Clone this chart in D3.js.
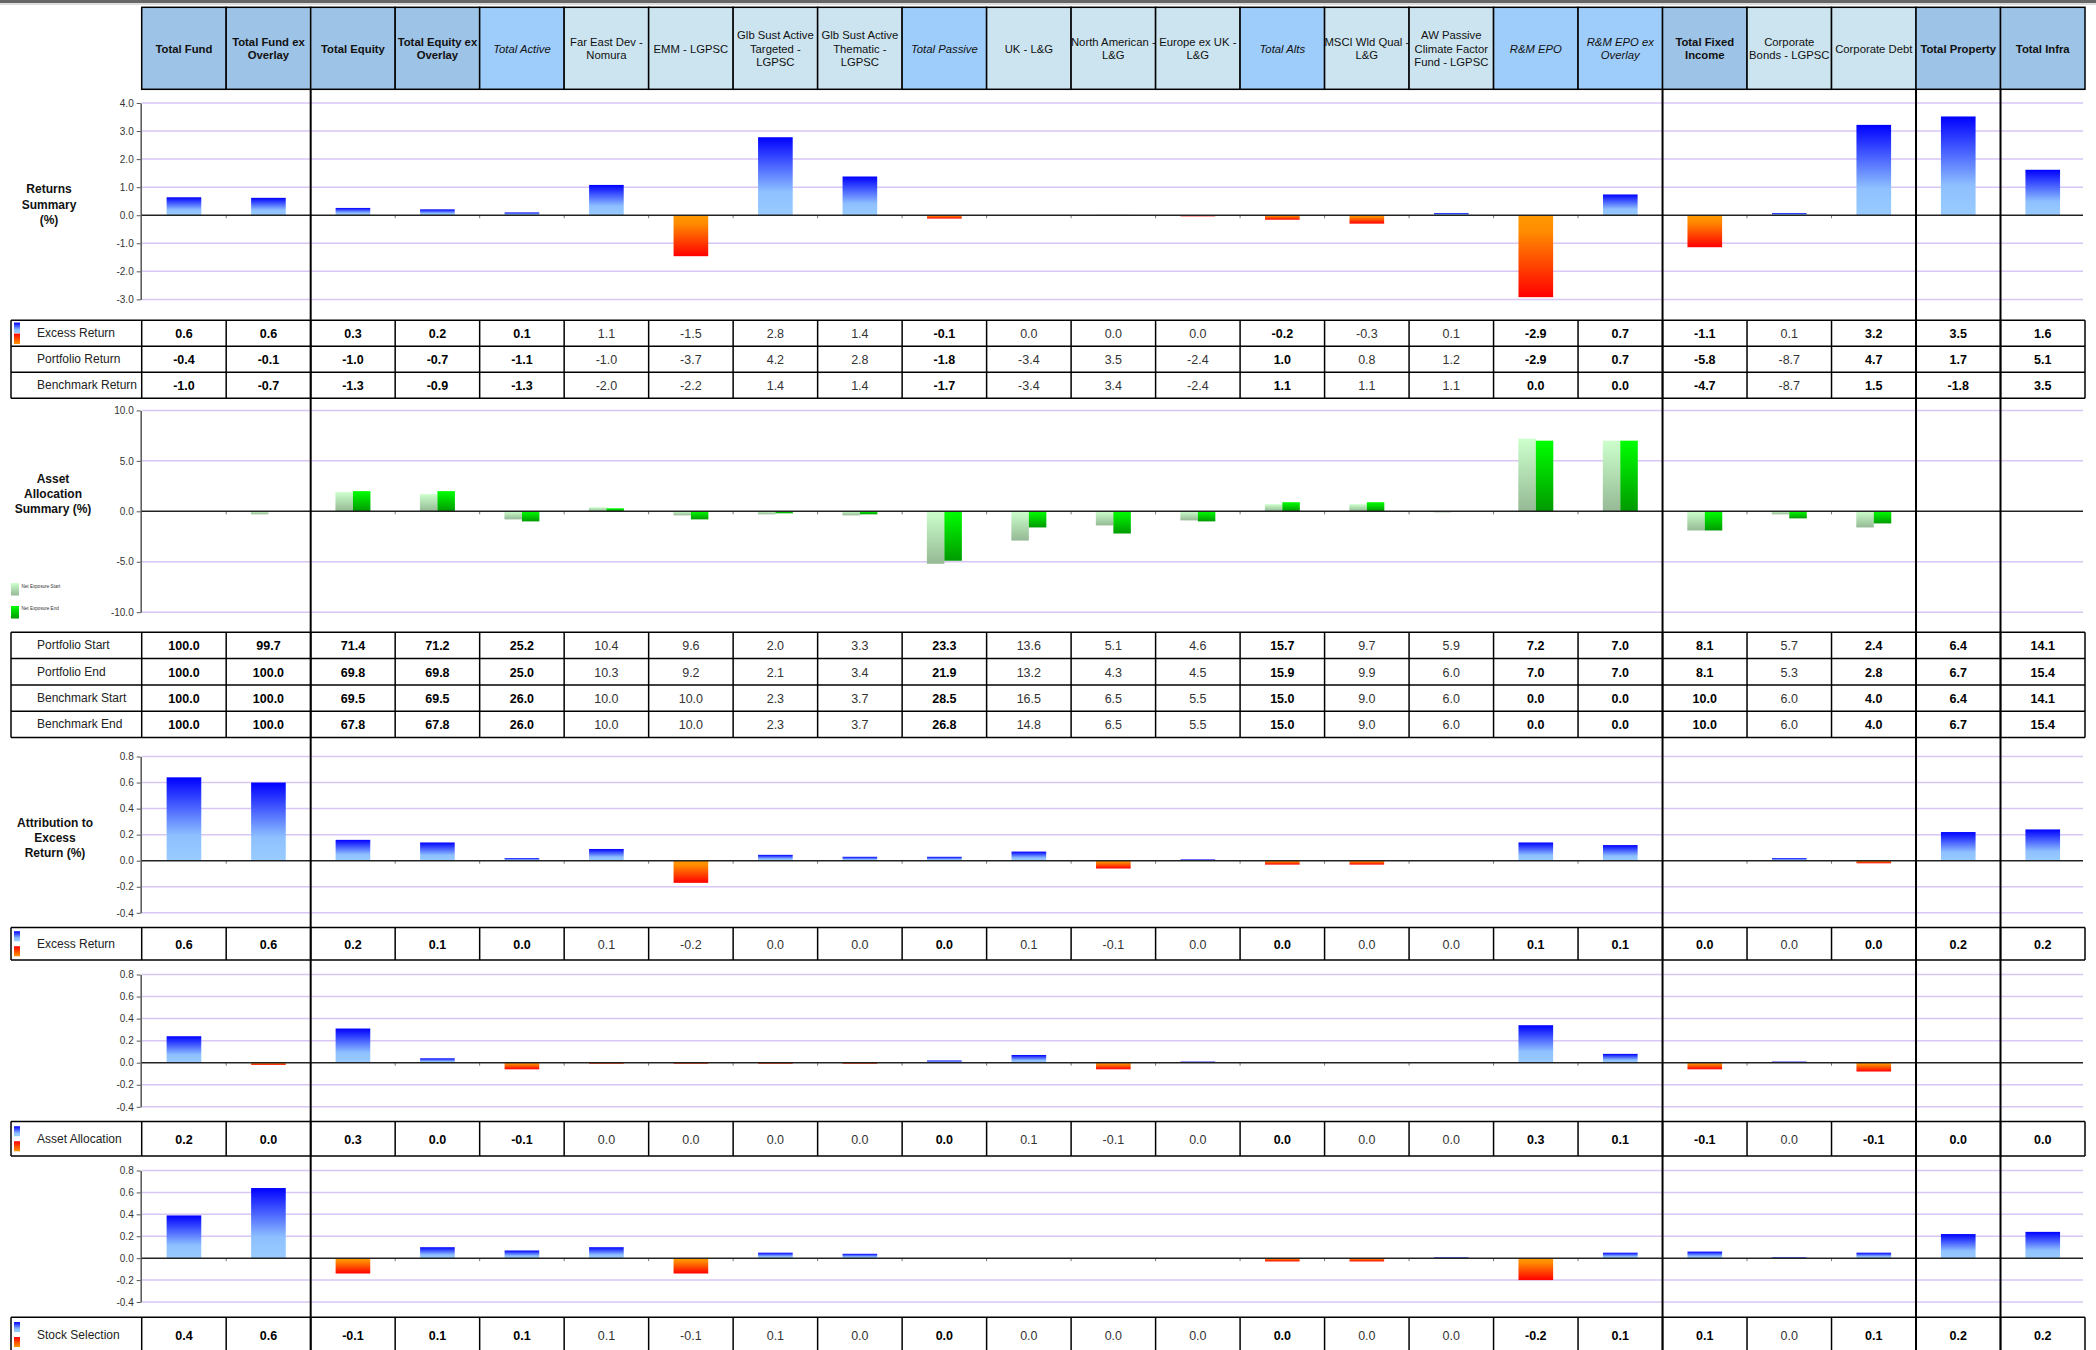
<!DOCTYPE html>
<html>
<head>
<meta charset="utf-8">
<script src="https://cdn.jsdelivr.net/npm/d3@7"></script>
<style>
  body { margin: 0; background: #fff; }
  svg { display: block; font-family: "Liberation Sans", Arial, sans-serif; }
</style>
</head>
<body>
<script>
// Column headers, "|" is a line break in the sheet
const categories = [
    "Total Fund", "Total Fund ex|Overlay", "Total Equity", "Total Equity ex|Overlay",
    "Total Active", "Far East Dev -|Nomura", "EMM - LGPSC",
    "Glb Sust Active|Targeted -|LGPSC", "Glb Sust Active|Thematic -|LGPSC",
    "Total Passive", "UK - L&G", "North American -|L&G", "Europe ex UK -|L&G",
    "Total Alts", "MSCI Wld Qual -|L&G", "AW Passive|Climate Factor|Fund - LGPSC",
    "R&M EPO", "R&M EPO ex|Overlay", "Total Fixed|Income", "Corporate|Bonds - LGPSC",
    "Corporate Debt", "Total Property", "Total Infra"
];
// b = total, i = sub total, n = fund
const headerStyle = ["b","b","b","b","i","n","n","n","n","i","n","n","n","i","n","n","i","i","b","n","n","b","b"];
const boldValues = headerStyle.map((s, i) => s !== "n" || i === 20);

// Returns summary (%)
const excessReturn    = [0.64, 0.62, 0.26, 0.21, 0.1, 1.08, -1.46, 2.78, 1.38, -0.12, 0.0, 0.01, -0.04, -0.16, -0.3, 0.08, -2.92, 0.74, -1.14, 0.08, 3.22, 3.52, 1.62];
const portfolioReturn = [-0.4, -0.1, -1.0, -0.7, -1.1, -1.0, -3.7, 4.2, 2.8, -1.8, -3.4, 3.5, -2.4, 1.0, 0.8, 1.2, -2.9, 0.7, -5.8, -8.7, 4.7, 1.7, 5.1];
const benchmarkReturn = [-1.0, -0.7, -1.3, -0.9, -1.3, -2.0, -2.2, 1.4, 1.4, -1.7, -3.4, 3.4, -2.4, 1.1, 1.1, 1.1, 0.0, 0.0, -4.7, -8.7, 1.5, -1.8, 3.5];

// Asset allocation summary (%)
const netExposureStart = [0.0, -0.3, 1.9, 1.7, -0.8, 0.4, -0.4, -0.3, -0.4, -5.2, -2.9, -1.4, -0.9, 0.7, 0.7, -0.1, 7.2, 7.0, -1.9, -0.3, -1.6, 0.0, 0.0];
const netExposureEnd   = [0.0, 0.0, 2.0, 2.0, -1.0, 0.3, -0.8, -0.2, -0.3, -4.9, -1.6, -2.2, -1.0, 0.9, 0.9, 0.0, 7.0, 7.0, -1.9, -0.7, -1.2, 0.0, 0.0];
const portfolioStart  = [100.0, 99.7, 71.4, 71.2, 25.2, 10.4, 9.6, 2.0, 3.3, 23.3, 13.6, 5.1, 4.6, 15.7, 9.7, 5.9, 7.2, 7.0, 8.1, 5.7, 2.4, 6.4, 14.1];
const portfolioEnd    = [100.0, 100.0, 69.8, 69.8, 25.0, 10.3, 9.2, 2.1, 3.4, 21.9, 13.2, 4.3, 4.5, 15.9, 9.9, 6.0, 7.0, 7.0, 8.1, 5.3, 2.8, 6.7, 15.4];
const benchmarkStart  = [100.0, 100.0, 69.5, 69.5, 26.0, 10.0, 10.0, 2.3, 3.7, 28.5, 16.5, 6.5, 5.5, 15.0, 9.0, 6.0, 0.0, 0.0, 10.0, 6.0, 4.0, 6.4, 14.1];
const benchmarkEnd    = [100.0, 100.0, 67.8, 67.8, 26.0, 10.0, 10.0, 2.3, 3.7, 26.8, 14.8, 6.5, 5.5, 15.0, 9.0, 6.0, 0.0, 0.0, 10.0, 6.0, 4.0, 6.7, 15.4];

// Attribution to excess return (%)
const attrExcess     = [0.64, 0.6, 0.16, 0.14, 0.02, 0.09, -0.17, 0.045, 0.03, 0.03, 0.07, -0.06, 0.01, -0.03, -0.03, 0.0, 0.14, 0.12, 0.0, 0.02, -0.02, 0.22, 0.24];
const attrAllocation = [0.24, -0.02, 0.31, 0.04, -0.06, -0.01, -0.01, -0.01, -0.01, 0.02, 0.07, -0.06, 0.01, 0.0, 0.0, 0.0, 0.34, 0.08, -0.06, 0.01, -0.08, 0.0, 0.0];
const attrSelection  = [0.39, 0.64, -0.14, 0.1, 0.07, 0.1, -0.14, 0.05, 0.04, 0.0, 0.0, 0.0, 0.0, -0.03, -0.03, 0.01, -0.2, 0.05, 0.06, 0.01, 0.05, 0.22, 0.24];

// Axis ticks
const returnTicks = [4, 3, 2, 1, 0, -1, -2, -3];
const exposureTicks = [10, 5, 0, -5, -10];
const attrTicks = [0.8, 0.6, 0.4, 0.2, 0, -0.2, -0.4];

// Layout

const width = 2096, height = 1350;
const tableLeft = 11, labelRight = 141.7, tableRight = 2085, plotRight = 2083;
const separators = [2, 18, 21, 22];

const fmt = v => { const s = v.toFixed(1); return s === "-0.0" ? "0.0" : s; };

const svg = d3.select("body").append("svg")
    .attr("width", width)
    .attr("height", height);

const x = d3.scaleBand()
    .domain(categories)
    .range([labelRight, tableRight]);

// Gradients

const defs = svg.append("defs");
function gradient(id, stops) {
    defs.append("linearGradient")
        .attr("id", id)
        .attr("x1", 0).attr("y1", 0).attr("x2", 0).attr("y2", 1)
        .selectAll("stop").data(stops).enter().append("stop")
        .attr("offset", d => d[0])
        .attr("stop-color", d => d[1]);
}
gradient("pos", [[0, "#0000FF"], [0.7, "#8EC0FF"], [1, "#99CCFF"]]);
gradient("neg", [[0, "#FF9900"], [0.2, "#FF8C00"], [1, "#FF0000"]]);
gradient("swatchNeg", [[0, "#FF0000"], [1, "#FF9900"]]);
gradient("start", [[0, "#CCFFCC"], [1, "#95B995"]]);
gradient("end", [[0, "#00FF00"], [1, "#009A00"]]);

// Top rule
svg.append("rect").attr("x", 0).attr("y", 0).attr("width", width).attr("height", 3).attr("fill", "#666");
svg.append("line").attr("x1", 0).attr("x2", width).attr("y1", 4).attr("y2", 4).attr("stroke", "#bbb");

// Header

const headerTop = 7.3, headerBottom = 89.3;
const headerFill = { b: "#9DC3E6", i: "#9FCDFB", n: "#CCE4F0" };

const header = svg.append("g");
header.selectAll("rect")
    .data(categories)
    .enter().append("rect")
    .attr("x", d => x(d))
    .attr("y", headerTop)
    .attr("width", x.bandwidth())
    .attr("height", headerBottom - headerTop)
    .attr("fill", (d, i) => headerFill[headerStyle[i]])
    .attr("stroke", "#000")
    .attr("stroke-width", 1.5);

header.selectAll("text")
    .data(categories)
    .enter().append("text")
    .attr("text-anchor", "middle")
    .attr("font-size", 11.3)
    .attr("font-weight", (d, i) => headerStyle[i] === "b" ? "bold" : "normal")
    .attr("font-style", (d, i) => headerStyle[i] === "i" ? "italic" : "normal")
    .attr("fill", "#111")
    .each(function (d) {
        const lines = d.split("|");
        const cx = x(d) + x.bandwidth() / 2;
        d3.select(this).selectAll("tspan")
            .data(lines)
            .enter().append("tspan")
            .attr("x", cx)
            .attr("y", (l, j) => 48.5 + (j - (lines.length - 1) / 2) * 13.2)
            .attr("dominant-baseline", "central")
            .text(l => l);
    });

// Charts

function drawChart(cfg) {
    const y = d3.scaleLinear().domain(cfg.domain).range(cfg.range);
    const g = svg.append("g");

    g.selectAll(".grid")
        .data(cfg.ticks.filter(t => t !== 0))
        .enter().append("line")
        .attr("x1", labelRight).attr("x2", plotRight)
        .attr("y1", d => y(d)).attr("y2", d => y(d))
        .attr("stroke", "#D8C6F5")
        .attr("stroke-width", 1.5);

    const axis = g.append("g")
        .attr("transform", `translate(${labelRight - 1},0)`)
        .call(d3.axisLeft(y).tickValues(cfg.ticks).tickFormat(fmt).tickSize(4).tickSizeOuter(0));
    axis.select(".domain").attr("stroke", "#555").attr("stroke-width", 1.5);
    axis.selectAll(".tick line").attr("stroke", "#555");
    axis.selectAll(".tick text")
        .attr("font-family", "Liberation Sans, Arial, sans-serif")
        .attr("font-size", 10)
        .attr("fill", "#333");

    // category ticks along the zero line
    g.selectAll(".cat")
        .data(categories.slice(1))
        .enter().append("line")
        .attr("x1", d => x(d)).attr("x2", d => x(d))
        .attr("y1", y(0)).attr("y2", y(0) + 3)
        .attr("stroke", "#777");

    const barW = cfg.series.length === 1 ? x.bandwidth() * 0.41 : x.bandwidth() * 0.207;
    cfg.series.forEach((s, k) => {
        const offset = cfg.series.length === 1 ? -barW / 2 : (k - 1) * barW;
        g.selectAll(".bar" + k)
            .data(s.values)
            .enter().append("rect")
            .attr("x", (d, i) => x(categories[i]) + x.bandwidth() / 2 + offset)
            .attr("y", d => Math.min(y(d), y(0)))
            .attr("width", barW)
            .attr("height", d => Math.abs(y(d) - y(0)))
            .attr("fill", d => s.fill ? s.fill : (d >= 0 ? "url(#pos)" : "url(#neg)"));
    });

    g.append("line")
        .attr("x1", labelRight).attr("x2", plotRight)
        .attr("y1", y(0)).attr("y2", y(0))
        .attr("stroke", "#222")
        .attr("stroke-width", 1.5);

    if (cfg.title) {
        g.append("text")
            .attr("text-anchor", "middle")
            .attr("font-size", 12)
            .attr("font-weight", "bold")
            .attr("fill", "#111")
            .selectAll("tspan")
            .data(cfg.title)
            .enter().append("tspan")
            .attr("x", cfg.titleX)
            .attr("y", (d, j) => cfg.titleY + j * cfg.titleStep)
            .attr("dominant-baseline", "central")
            .text(d => d);
    }
}

// Tables

function drawTable(cfg) {
    const g = svg.append("g");
    const bottom = cfg.top + cfg.rows.length * cfg.rowH;

    cfg.rows.forEach((row, r) => {
        const top = cfg.top + r * cfg.rowH;
        const cy = top + cfg.rowH / 2;

        g.append("text")
            .attr("x", 37).attr("y", cy)
            .attr("dominant-baseline", "central")
            .attr("font-size", 12)
            .attr("fill", "#222")
            .text(row.label);

        if (row.swatch) {
            const h = cfg.swatchH, gap = cfg.swatchGap, t = top + (cfg.rowH - 2 * h - gap) / 2;
            g.append("rect").attr("x", 14).attr("y", t).attr("width", 6).attr("height", h).attr("fill", "url(#pos)");
            g.append("rect").attr("x", 14).attr("y", t + h + gap).attr("width", 6).attr("height", h).attr("fill", "url(#swatchNeg)");
        }

        g.selectAll(".v" + r)
            .data(row.values)
            .enter().append("text")
            .attr("x", (d, i) => x(categories[i]) + x.bandwidth() / 2)
            .attr("y", cy + 1)
            .attr("text-anchor", "middle")
            .attr("dominant-baseline", "central")
            .attr("font-size", 12.5)
            .attr("font-weight", (d, i) => boldValues[i] ? "bold" : "normal")
            .attr("fill", (d, i) => boldValues[i] ? "#000" : "#333")
            .text(d => fmt(d));
    });

    // grid lines of the table
    g.selectAll(".h")
        .data(d3.range(cfg.rows.length + 1))
        .enter().append("line")
        .attr("x1", tableLeft).attr("x2", tableRight)
        .attr("y1", r => cfg.top + r * cfg.rowH).attr("y2", r => cfg.top + r * cfg.rowH)
        .attr("stroke", "#000").attr("stroke-width", 1.5);

    const verticals = [tableLeft, labelRight].concat(categories.slice(1).map(c => x(c)), [tableRight]);
    g.selectAll(".c")
        .data(verticals)
        .enter().append("line")
        .attr("x1", d => d).attr("x2", d => d)
        .attr("y1", cfg.top).attr("y2", bottom)
        .attr("stroke", "#000").attr("stroke-width", 1.5);
}

drawChart({
    domain: [-3, 4], range: [299.4, 103], ticks: returnTicks,
    series: [{ values: excessReturn }],
    title: ["Returns", "Summary", "(%)"], titleX: 49, titleY: 189, titleStep: 15.5
});
drawTable({
    top: 320.3, rowH: 26, swatchH: 10.5, swatchGap: 0.5,
    rows: [
        { label: "Excess Return", values: excessReturn, swatch: true },
        { label: "Portfolio Return", values: portfolioReturn },
        { label: "Benchmark Return", values: benchmarkReturn }
    ]
});

drawChart({
    domain: [-10, 10], range: [612.2, 410.4], ticks: exposureTicks,
    series: [{ values: netExposureStart, fill: "url(#start)" }, { values: netExposureEnd, fill: "url(#end)" }],
    title: ["Asset", "Allocation", "Summary (%)"], titleX: 53, titleY: 479, titleStep: 15
});

// legend of the exposure chart
const legend = svg.append("g");
legend.selectAll("rect")
    .data([{ name: "Net Exposure Start", fill: "url(#start)", y: 583 }, { name: "Net Exposure End", fill: "url(#end)", y: 606 }])
    .enter().append("rect")
    .attr("x", 11).attr("y", d => d.y)
    .attr("width", 8).attr("height", 12.5)
    .attr("fill", d => d.fill);
legend.selectAll("text")
    .data([{ name: "Net Exposure Start", y: 586 }, { name: "Net Exposure End", y: 608 }])
    .enter().append("text")
    .attr("x", 21.5).attr("y", d => d.y)
    .attr("dominant-baseline", "central")
    .attr("font-size", 4.6)
    .attr("fill", "#333")
    .text(d => d.name);

drawTable({
    top: 632.3, rowH: 26.3,
    rows: [
        { label: "Portfolio Start", values: portfolioStart },
        { label: "Portfolio End", values: portfolioEnd },
        { label: "Benchmark Start", values: benchmarkStart },
        { label: "Benchmark End", values: benchmarkEnd }
    ]
});

drawChart({
    domain: [-0.4, 0.8], range: [912.8, 756.5], ticks: attrTicks,
    series: [{ values: attrExcess }],
    title: ["Attribution to", "Excess", "Return (%)"], titleX: 55, titleY: 823, titleStep: 15
});
drawTable({
    top: 927.5, rowH: 32.5, swatchH: 10, swatchGap: 5,
    rows: [{ label: "Excess Return", values: attrExcess, swatch: true }]
});

drawChart({
    domain: [-0.4, 0.8], range: [1106.8, 974.5], ticks: attrTicks,
    series: [{ values: attrAllocation }]
});
drawTable({
    top: 1121.5, rowH: 34.5, swatchH: 10, swatchGap: 5,
    rows: [{ label: "Asset Allocation", values: attrAllocation, swatch: true }]
});

drawChart({
    domain: [-0.4, 0.8], range: [1302, 1170.5], ticks: attrTicks,
    series: [{ values: attrSelection }]
});
drawTable({
    top: 1317.3, rowH: 34.5, swatchH: 10, swatchGap: 5,
    rows: [{ label: "Stock Selection", values: attrSelection, swatch: true }]
});

// heavy separators between asset groups
svg.append("g").selectAll("line")
    .data(separators)
    .enter().append("line")
    .attr("x1", i => x(categories[i])).attr("x2", i => x(categories[i]))
    .attr("y1", headerBottom).attr("y2", height)
    .attr("stroke", "#000")
    .attr("stroke-width", 2);
</script>
</body>
</html>
